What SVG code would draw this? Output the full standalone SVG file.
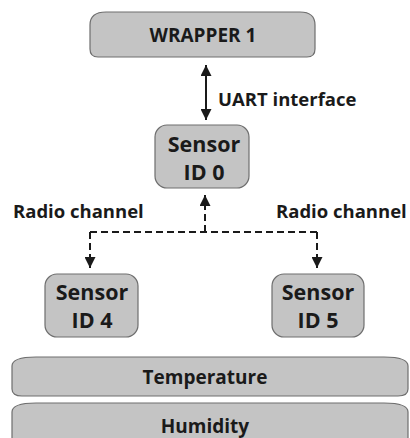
<svg xmlns="http://www.w3.org/2000/svg" width="410" height="438" viewBox="0 0 410 438">
<style>
.box{fill:#c4c4c4;stroke:#6e6e6e;stroke-width:1.2}
.t{font-family:"Open Sans","Liberation Sans",sans-serif;font-weight:bold;fill:#1a1a1a;text-anchor:middle}
.lbl{font-family:"Open Sans","Liberation Sans",sans-serif;font-weight:bold;fill:#1a1a1a;font-size:18.5px}
.s{font-size:21.5px}
.m{font-size:19px}
.ln{stroke:#1a1a1a;stroke-width:2;fill:none}
.ds{stroke:#1a1a1a;stroke-width:2;fill:none;stroke-dasharray:7 4}
</style>
<defs>
<marker id="ah" viewBox="0 0 10 10" refX="10" refY="5" markerWidth="5.5" markerHeight="5.5" orient="auto-start-reverse" markerUnits="strokeWidth">
<path d="M0,0 L10,5 L0,10 Z" fill="#1a1a1a"/>
</marker>
</defs>
<g id="wrapper1">
<path class="box" d="M106,12 H300 Q315,12 315,25 V49 Q315,57 307,57 H98 Q90,57 90,49 V25 Q90,12 106,12 Z"/>
<text class="t m" x="203" y="42">WRAPPER 1</text>
</g>
<g id="sensor0">
<rect class="box" x="155" y="125" width="94" height="63" rx="12" ry="12"/>
<text class="t s" x="204" y="152">Sensor</text>
<text class="t s" x="204" y="180">ID 0</text>
</g>
<g id="sensor4">
<rect class="box" x="45" y="274" width="93" height="63" rx="12" ry="12"/>
<text class="t s" x="92" y="300">Sensor</text>
<text class="t s" x="92" y="328">ID 4</text>
</g>
<g id="sensor5">
<rect class="box" x="272" y="274" width="92" height="63" rx="12" ry="12"/>
<text class="t s" x="318" y="300">Sensor</text>
<text class="t s" x="318" y="328">ID 5</text>
</g>
<g id="temperature">
<path class="box" d="M36,357 H384 Q408,357 408,366 V389 Q408,396 398,396 H22 Q12,396 12,389 V366 Q12,357 36,357 Z"/>
<text class="t m" x="205" y="384">Temperature</text>
</g>
<g id="humidity">
<path class="box" d="M36,403 H384 Q408,403 408,412 V440 H12 V412 Q12,403 36,403 Z"/>
<text class="t m" x="205" y="433">Humidity</text>
</g>
<g id="connectors">
<line class="ln" x1="206" y1="65" x2="206" y2="120" marker-start="url(#ah)" marker-end="url(#ah)"/>
<path class="ds" d="M205,232 V195" marker-end="url(#ah)"/>
<path class="ds" d="M90,232 H317"/>
<path class="ds" d="M90,232 V268" marker-end="url(#ah)"/>
<path class="ds" d="M317,232 V268" marker-end="url(#ah)"/>
<text class="lbl" x="218" y="106">UART interface</text>
<text class="lbl" x="13" y="218">Radio channel</text>
<text class="lbl" x="276" y="218">Radio channel</text>
</g>
</svg>
